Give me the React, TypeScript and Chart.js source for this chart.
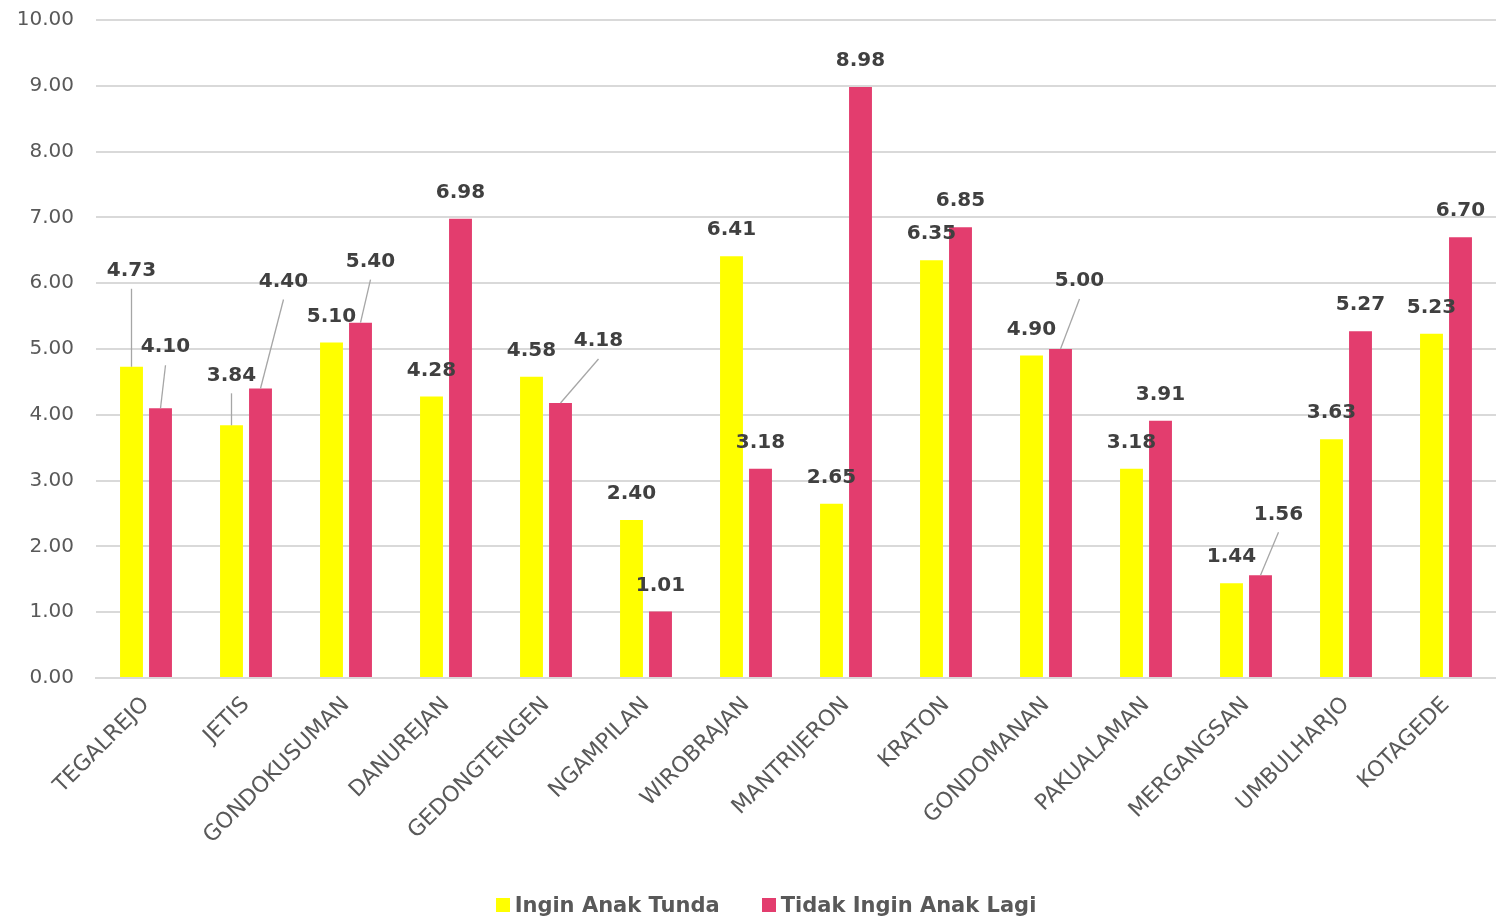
import React, { useEffect, useRef } from "react";
import { Chart, registerables } from "chart.js";

Chart.register(...registerables);

const categories = [
  "TEGALREJO", "JETIS", "GONDOKUSUMAN", "DANUREJAN", "GEDONGTENGEN", "NGAMPILAN", "WIROBRAJAN",
  "MANTRIJERON", "KRATON", "GONDOMANAN", "PAKUALAMAN", "MERGANGSAN", "UMBULHARJO", "KOTAGEDE",
];
const inginAnakTunda = [4.73, 3.84, 5.1, 4.28, 4.58, 2.4, 6.41, 2.65, 6.35, 4.9, 3.18, 1.44, 3.63, 5.23];
const tidakInginAnakLagi = [4.1, 4.4, 5.4, 6.98, 4.18, 1.01, 3.18, 8.98, 6.85, 5.0, 3.91, 1.56, 5.27, 6.7];
const seriesNames = ["Ingin Anak Tunda", "Tidak Ingin Anak Lagi"];
const seriesColors = ["#FFFF00", "#E33D6E"];

// label displacement (pixels) for manually moved data labels
const labelShiftTunda: [number, number][] = [
  [0, -70], [0, -24], [0, 0], [0, 0], [0, 0], [0, 0], [0, 0],
  [0, 0], [0, 0], [0, 0], [0, 0], [0, 0], [0, 0], [0, 0],
];
const labelShiftTidak: [number, number][] = [
  [5, -35], [23, -81], [10, -35], [0, 0], [38, -36], [0, 0], [0, 0],
  [0, 0], [0, 0], [19, -42], [0, 0], [18, -35], [0, 0], [0, 0],
];

const FONT = "'DejaVu Sans', sans-serif";

const dataLabelPlugin = {
  id: "dataLabels",
  afterDatasetsDraw(chart: any) {
    const ctx = chart.ctx;
    ctx.save();
    chart.data.datasets.forEach((ds: any, di: number) => {
      const meta = chart.getDatasetMeta(di);
      const shifts = di === 0 ? labelShiftTunda : labelShiftTidak;
      meta.data.forEach((bar: any, i: number) => {
        const v = ds.data[i] as number;
        const [dx, dy] = shifts[i];
        const x = bar.x + dx;
        const y = bar.y - 26 + dy;
        if (dx !== 0 || dy < -5) {
          ctx.strokeStyle = "#a6a6a6";
          ctx.lineWidth = 1.3;
          ctx.beginPath();
          ctx.moveTo(x, y + 18);
          ctx.lineTo(bar.x, bar.y);
          ctx.stroke();
        }
        ctx.font = `bold 20px ${FONT}`;
        ctx.fillStyle = "#404040";
        ctx.textAlign = "center";
        ctx.textBaseline = "middle";
        ctx.fillText(v.toFixed(2), x, y);
      });
    });
    ctx.restore();
  },
};

export default function App() {
  const ref = useRef<HTMLCanvasElement>(null);
  useEffect(() => {
    if (!ref.current) return;
    const chart = new Chart(ref.current, {
      type: "bar",
      data: {
        labels: categories,
        datasets: [
          {
            label: seriesNames[0],
            data: inginAnakTunda,
            backgroundColor: seriesColors[0],
            categoryPercentage: 0.58,
            barPercentage: 0.79,
          },
          {
            label: seriesNames[1],
            data: tidakInginAnakLagi,
            backgroundColor: seriesColors[1],
            categoryPercentage: 0.58,
            barPercentage: 0.79,
          },
        ],
      },
      options: {
        animation: false,
        responsive: true,
        maintainAspectRatio: false,
        layout: { padding: { top: 5, right: 0, left: 0, bottom: 55 } },
        scales: {
          x: {
            grid: { display: false },
            border: { display: true, color: "#d9d9d9", width: 2 },
            ticks: {
              maxRotation: 45,
              minRotation: 45,
              color: "#595959",
              font: { family: FONT, size: 22 },
              padding: 6,
              autoSkip: false,
            },
            afterFit(scale: any) {
              scale.height = 185;
            },
          },
          y: {
            min: 0,
            max: 10,
            ticks: {
              stepSize: 1,
              color: "#595959",
              font: { family: FONT, size: 20 },
              padding: 22,
              callback: (v: any) => Number(v).toFixed(2),
            },
            grid: { color: "#d9d9d9", lineWidth: 2, drawTicks: false },
            border: { display: false },
            afterFit(scale: any) {
              scale.width = 96;
            },
          },
        },
        plugins: {
          legend: { display: false },
          tooltip: { enabled: false },
        },
      },
      plugins: [dataLabelPlugin],
    });
    return () => chart.destroy();
  }, []);
  return (
    <div style={{ position: "absolute", left: 0, top: 0, width: 1496, height: 918, overflow: "hidden" }}>
      <div style={{ position: "absolute", left: 0, top: -14, width: 1496, height: 932 }}>
        <canvas ref={ref} />
      </div>
      <div
        style={{
          position: "absolute",
          left: 0,
          width: 1496,
          top: 890,
          display: "flex",
          justifyContent: "center",
          gap: 42,
          fontFamily: FONT,
          fontWeight: "bold",
          fontSize: 21,
          color: "#595959",
          lineHeight: "30px",
          paddingLeft: 36,
          boxSizing: "border-box",
        }}
      >
        {seriesNames.map((n, i) => (
          <div key={n} style={{ display: "flex", alignItems: "center", gap: 5 }}>
            <span style={{ width: 14, height: 14, background: seriesColors[i], display: "inline-block" }} />
            <span>{n}</span>
          </div>
        ))}
      </div>
    </div>
  );
}
